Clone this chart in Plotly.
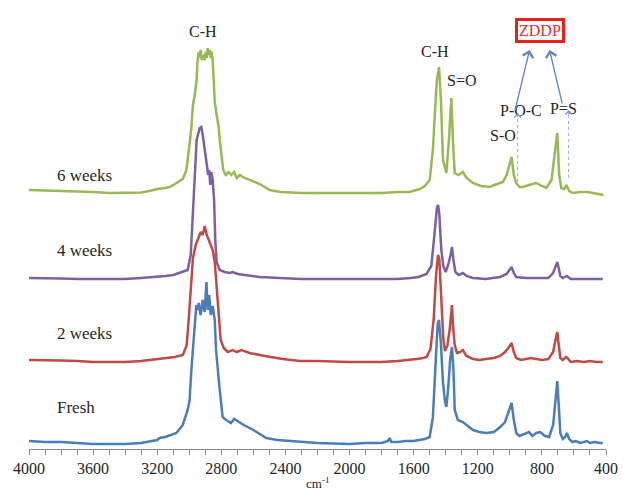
import plotly.graph_objects as go

# ---- data (arbitrary absorbance units, spectra already offset) ----
fresh_wn = [4000,3900,3800,3700,3600,3500,3400,3300,3200,3185,3150,3080,3041,3010,2998,2987,2977,2966,2956,2948,2941,2929,2916,2904,2893,2885,2876,2866,2854,2841,2833,2812,2792,2770,2740,2720,2685,2660,2600,2520,2450,2311,2200,2000,1900,1800,1760,1750,1740,1700,1650,1600,1560,1530,1500,1480,1459,1450,1442,1430,1417,1405,1396,1385,1372,1361,1352,1344,1324,1293,1270,1230,1190,1147,1100,1060,1030,1010,989,975,960,940,900,880,860,835,810,780,755,730,715,704,695,685,670,655,644,630,610,590,560,540,520,500,470,440,420]
fresh_ab = [8,7,7,6,5,5,5,6,9,11,12,16,24,39,49,79,102,129,144,139,146,134,149,137,167,139,154,134,143,129,99,62,32,29,26,30,26,24,19,11,9,7,6,5,6,6,8,11,7,7,8,8,9,10,12,32,99,125,129,105,66,48,42,60,90,102,80,39,29,27,24,19,17,16,17,22,27,37,46,29,16,13,16,17,13,16,17,13,12,24,49,68,44,16,10,12,16,10,7,8,6,7,8,6,7,6,6]

wk2_wn = [4000,3900,3800,3700,3600,3500,3400,3300,3200,3150,3122,3090,3040,3016,3004,2987,2977,2960,2941,2929,2916,2904,2891,2879,2866,2854,2841,2829,2816,2804,2785,2760,2729,2704,2675,2623,2529,2417,2311,2200,2000,1800,1700,1620,1580,1540,1520,1495,1475,1460,1448,1440,1428,1415,1405,1390,1375,1365,1361,1355,1345,1330,1310,1293,1270,1230,1190,1150,1100,1060,1030,1010,989,975,960,930,900,870,835,800,760,730,715,704,695,685,670,650,640,620,580,540,500,460,420]
wk2_ab = [89,89,88.5,88,87,87,87,88,90,91,92,92,94,104,129,169,191,204,211,217,214,223,214,209,204,199,187,159,129,109,101,97,99,97,99,96,93,90,88,88,87,87,88,89,90,91,92,100,130,175,194,190,150,110,98,103,120,140,144,125,105,96,97,99,93,90,89,90,91,93,97,101,106,97,91,89,90,91,90,89,90,97,109,117,104,91,89,92,91,87,88,87,88,87,87]

wk4_wn = [4000,3900,3800,3700,3600,3500,3400,3300,3200,3150,3100,3040,3010,2991,2979,2966,2954,2935,2925,2916,2904,2891,2882,2876,2869,2863,2854,2845,2838,2829,2810,2779,2748,2729,2698,2654,2560,2436,2300,2100,1900,1800,1700,1620,1570,1520,1490,1470,1455,1448,1440,1428,1415,1400,1385,1370,1361,1352,1340,1320,1293,1270,1230,1150,1060,1020,1000,989,975,960,900,835,760,730,715,704,695,685,670,645,620,560,500,420]
wk4_ab = [171,171,170.5,170,170,170,170,171,172,173,174,177,179,194,234,284,309,321,322,314,299,284,274,279,264,277,269,249,209,187,179,177,176,177,175,174,172,171,170,170,170,170,170,171,172,175,183,215,241,244,235,200,183,177,184,194,202,189,177,174,176,173,171,170,172,175,179,182,176,172,171,171,171,176,182,187,181,173,171,173,170,170,170,170]

wk6_wn = [4000,3900,3800,3700,3650,3600,3500,3400,3300,3250,3200,3150,3122,3080,3040,3018,3005,2995,2987,2977,2966,2954,2948,2941,2935,2929,2922,2916,2904,2897,2891,2885,2879,2872,2866,2860,2854,2848,2841,2829,2816,2810,2798,2788,2773,2754,2737,2720,2704,2685,2654,2623,2560,2498,2430,2300,2200,2100,2000,1900,1800,1700,1625,1563,1530,1500,1480,1469,1455,1442,1430,1417,1396,1380,1365,1355,1344,1320,1293,1270,1230,1180,1126,1080,1043,1020,1005,989,975,960,940,918,880,835,800,772,740,720,704,692,679,660,647,630,606,560,523,480,429,415]
wk6_ab = [259,258.5,258,258,258,257,256,256,256.5,258,260,261,262,266,270,279,294,309,322,344,354,369,389,397,391,399,389,394,389,397,391,401,394,399,391,397,389,369,347,334,321,309,291,279,274,277,274,277,271,274,271,269,265,259,257,256,256,255.5,256,256,256,257,257,260,263,269,299,332,369,382,349,289,276,309,351,309,276,274,277,271,266,263,262,265,267,274,284,292,274,266,262,262,264,266,263,261,269,294,316,274,261,260,264,258,256,257,257,256,254,254]

series_names = ["Fresh", "2 weeks", "4 weeks", "6 weeks"]
x_tick_vals = [4000, 3600, 3200, 2800, 2400, 2000, 1600, 1200, 800, 400]
x_tick_text = ["4000", "3600", "3200", "2800", "2400", "2000", "1600", "1200", "800", "400"]

# ---- styles ----
colors = {"Fresh": "#4A7EBB", "2 weeks": "#BE4B48", "4 weeks": "#7D60A0", "6 weeks": "#98B954"}
SERIF = "Liberation Serif, Times New Roman, serif"
TXT = "#262626"

fig = go.Figure()
data = {"Fresh": (fresh_wn, fresh_ab), "2 weeks": (wk2_wn, wk2_ab),
        "4 weeks": (wk4_wn, wk4_ab), "6 weeks": (wk6_wn, wk6_ab)}
for name in ["Fresh", "4 weeks", "2 weeks", "6 weeks"]:
    wn, ab = data[name]
    fig.add_trace(go.Scatter(x=wn, y=ab, mode="lines", name=name,
                             line=dict(color=colors[name], width=2.5),
                             hoverinfo="skip", showlegend=False))

# series labels
label_pos = {"6 weeks": 274, "4 weeks": 199, "2 weeks": 116, "Fresh": 42}
for name in series_names:
    fig.add_annotation(x=3840, y=label_pos[name], text=name, showarrow=False,
                       xanchor="left", yanchor="middle",
                       font=dict(family=SERIF, size=17, color=TXT))

# band labels
for txt, xv, yv in [("C-H", 2916, 418), ("C-H", 1469, 398), ("S=O", 1300, 369),
                    ("S-O", 1045, 314), ("P-O-C", 933, 339), ("P=S", 665, 341)]:
    fig.add_annotation(x=xv, y=yv, text=txt, showarrow=False,
                       font=dict(family=SERIF, size=16, color=TXT))

# dotted guide lines with small arrowheads
for xv, y0, y1 in [(951, 267, 336), (633, 271, 339)]:
    fig.add_shape(type="line", x0=xv, x1=xv, y0=y0, y1=y1, xref="x", yref="y",
                  line=dict(color="#8FA9D6", width=1, dash="dot"))
    fig.add_annotation(x=xv, y=y1, ax=xv, ay=y1 - 6, axref="x", ayref="y",
                       xref="x", yref="y", text="", showarrow=True,
                       arrowhead=4, arrowsize=1.3, arrowwidth=1,
                       arrowcolor="#7E9DD0")
# solid arrows to ZDDP
for (tx, ty), (hx, hy) in [((970, 337), (877, 399)), ((671, 344), (752, 399))]:
    fig.add_annotation(x=hx, y=hy, ax=tx, ay=ty, axref="x", ayref="y",
                       xref="x", yref="y", text="", showarrow=True,
                       arrowhead=4, arrowsize=1.6, arrowwidth=1.3,
                       arrowcolor="#5B86C5")

# ZDDP box
fig.add_annotation(x=814, y=419, text="ZDDP", showarrow=False,
                   font=dict(family=SERIF, size=16, color="#E0302A"),
                   bordercolor="#E8201A", borderwidth=3, borderpad=1,
                   bgcolor="white")

# axis title
fig.add_annotation(x=0.5, y=0, xref="paper", yref="paper", yanchor="bottom",
                   yshift=-44, text="cm<sup>-1</sup>", showarrow=False,
                   font=dict(family=SERIF, size=13, color=TXT))

fig.update_layout(
    width=623, height=493,
    margin=dict(l=29, r=17, t=0, b=44),
    paper_bgcolor="white", plot_bgcolor="white",
    xaxis=dict(range=[4000, 400], tickvals=x_tick_vals, ticktext=x_tick_text,
               showgrid=False, zeroline=False, showline=True,
               linecolor="#8C8C8C", linewidth=1, ticks="outside", ticklen=5,
               tickcolor="#8C8C8C",
               minor=dict(tickvals=list(range(4000, 399, -100)), ticks="outside",
                          ticklen=5, tickcolor="#8C8C8C"),
               tickfont=dict(family=SERIF, size=16, color=TXT)),
    yaxis=dict(range=[0, 449], visible=False),
)

fig.write_html("out.html")
